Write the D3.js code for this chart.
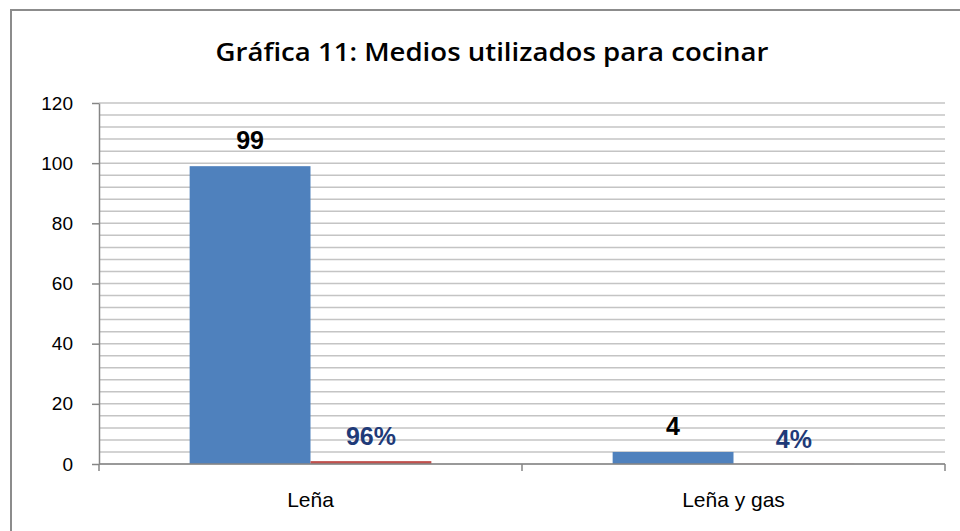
<!DOCTYPE html>
<html>
<head>
<meta charset="utf-8">
<script src="https://cdn.jsdelivr.net/npm/d3@7"></script>
<style>
  body { margin: 0; background: #fff; }
  svg { display: block; }
</style>
</head>
<body>
<script>
// chart data
var categories = ["Leña", "Leña y gas"];
var series = ["Cantidad", "Porcentaje"];
var counts = [99, 4];
var shares = [0.96, 0.04];
var countLabels = ["99", "4"];
var shareLabels = ["96%", "4%"];
var yTicks = [0, 20, 40, 60, 80, 100, 120];
var gridValues = d3.range(0, 121, 4);

var W = 960, H = 531;
var margin = { top: 103, right: 15, bottom: 67, left: 99 },
    width = W - margin.left - margin.right,
    height = H - margin.top - margin.bottom;

var svg = d3.select("body").append("svg")
    .attr("width", W)
    .attr("height", H);

// outer frame of the chart
svg.append("rect")
    .attr("x", 11)
    .attr("y", 10)
    .attr("width", 970)
    .attr("height", 560)
    .attr("fill", "#fff")
    .attr("stroke", "#8c8c8c")
    .attr("stroke-width", 2);

// title
svg.append("text")
    .attr("x", 492)
    .attr("y", 61)
    .attr("text-anchor", "middle")
    .attr("textLength", 553)
    .attr("lengthAdjust", "spacingAndGlyphs")
    .style("font-family", "'Open Sans', 'Noto Sans', sans-serif")
    .style("font-weight", 600)
    .style("font-size", "25px")
    .style("fill", "#000")
    .text("Gráfica 11: Medios utilizados para cocinar");

var g = svg.append("g")
    .attr("transform", "translate(" + margin.left + "," + margin.top + ")");

// scales
var y = d3.scaleLinear().domain([0, 120]).range([height, 0]);
var x0 = d3.scaleBand().domain(categories).range([0, width]).padding(0);
// gap width 150% of a bar, split on both sides of the pair
var x1 = d3.scaleBand().domain(series)
    .range([x0.bandwidth() * 1.5 / 7, x0.bandwidth() * 5.5 / 7]).padding(0);

// gridlines
g.append("g")
    .selectAll("line")
    .data(gridValues)
    .enter().append("line")
    .attr("x1", 0)
    .attr("x2", width)
    .attr("y1", function(d) { return y(d); })
    .attr("y2", function(d) { return y(d); })
    .attr("stroke", "#c4c4c4")
    .attr("stroke-width", 1.5);

// bars
var groups = g.selectAll(".cat")
    .data(categories)
    .enter().append("g")
    .attr("class", "cat")
    .attr("transform", function(d) { return "translate(" + x0(d) + ",0)"; });

groups.append("rect")
    .attr("x", x1("Cantidad"))
    .attr("width", x1.bandwidth())
    .attr("y", function(d, i) { return y(counts[i]); })
    .attr("height", function(d, i) { return height - y(counts[i]); })
    .attr("fill", "#4f81bd");

groups.append("rect")
    .attr("x", x1("Porcentaje"))
    .attr("width", x1.bandwidth())
    .attr("y", function(d, i) { return y(shares[i]); })
    .attr("height", function(d, i) { return height - y(shares[i]); })
    .attr("fill", "#c0504d");

// value labels
groups.append("text")
    .attr("x", x1("Cantidad") + x1.bandwidth() / 2)
    .attr("y", function(d, i) { return y(counts[i]) - 17; })
    .attr("text-anchor", "middle")
    .style("font-family", "'Liberation Sans', Arial, sans-serif")
    .style("font-weight", "bold")
    .style("font-size", "25px")
    .style("fill", "#000")
    .text(function(d, i) { return countLabels[i]; });

groups.append("text")
    .attr("x", x1("Porcentaje") + x1.bandwidth() / 2)
    .attr("y", function(d, i) { return y(shares[i]) - 16; })
    .attr("text-anchor", "middle")
    .style("font-family", "'Liberation Sans', Arial, sans-serif")
    .style("font-weight", "bold")
    .style("font-size", "25px")
    .style("fill", "#1f3a78")
    .text(function(d, i) { return shareLabels[i]; });

// y axis
var yAxis = g.append("g")
    .call(d3.axisLeft(y).tickValues(yTicks).tickSize(7).tickPadding(19).tickSizeOuter(0));
yAxis.select(".domain").attr("stroke", "#868686").attr("stroke-width", 1.5);
yAxis.selectAll(".tick line").attr("stroke", "#868686").attr("stroke-width", 1.5);
yAxis.selectAll(".tick text")
    .style("font-family", "'Liberation Sans', Arial, sans-serif")
    .style("font-size", "19px")
    .style("fill", "#000");

// x axis
var xAxisG = g.append("g")
    .attr("transform", "translate(0," + height + ")");
xAxisG.append("line")
    .attr("x1", 0).attr("x2", width)
    .attr("stroke", "#868686").attr("stroke-width", 1.5);
xAxisG.selectAll(".sep")
    .data([0].concat(categories.map(function(c) { return x0(c) + x0.bandwidth(); })))
    .enter().append("line")
    .attr("class", "sep")
    .attr("x1", function(d) { return d; })
    .attr("x2", function(d) { return d; })
    .attr("y1", 0).attr("y2", 7)
    .attr("stroke", "#868686").attr("stroke-width", 1.5);
xAxisG.selectAll(".lbl")
    .data(categories)
    .enter().append("text")
    .attr("class", "lbl")
    .attr("x", function(d) { return x0(d) + x0.bandwidth() / 2; })
    .attr("y", 43)
    .attr("text-anchor", "middle")
    .style("font-family", "'Liberation Sans', Arial, sans-serif")
    .style("font-size", "21px")
    .style("fill", "#000")
    .text(function(d) { return d; });
</script>
</body>
</html>
